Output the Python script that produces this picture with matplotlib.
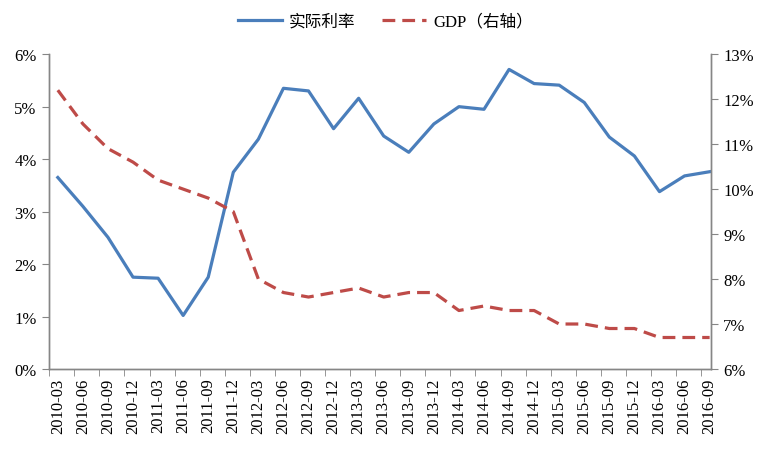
import matplotlib.pyplot as plt
import matplotlib.ticker as mticker
import numpy as np

plt.rcParams['font.family'] = ['Liberation Serif', 'Noto Sans CJK SC']

quarters = ['2010-03', '2010-06', '2010-09', '2010-12', '2011-03', '2011-06', '2011-09', '2011-12',
            '2012-03', '2012-06', '2012-09', '2012-12', '2013-03', '2013-06', '2013-09', '2013-12',
            '2014-03', '2014-06', '2014-09', '2014-12', '2015-03', '2015-06', '2015-09', '2015-12',
            '2016-03', '2016-06', '2016-09']

# 实际利率 (左轴, %)
realRate = [3.65, 3.10, 2.51, 1.75, 1.73, 1.02, 1.75, 3.75,
            4.38, 5.35, 5.30, 4.58, 5.16, 4.44, 4.13, 4.67,
            5.00, 4.95, 5.71, 5.44, 5.41, 5.08, 4.42, 4.06,
            3.38, 3.68, 3.76]

# GDP (右轴, %)
gdp = [12.2, 11.45, 10.9, 10.6, 10.2, 10.0, 9.8, 9.5,
       8.0, 7.7, 7.6, 7.7, 7.8, 7.6, 7.7, 7.7,
       7.3, 7.4, 7.3, 7.3, 7.0, 7.0, 6.9, 6.9,
       6.7, 6.7, 6.7]

blue = '#4A7EBB'
red = '#BE4B48'
grey = '#868686'
fontSize = 12

fig = plt.figure(figsize=(7.71, 4.6), dpi=100)
ax1 = fig.add_axes([0.0636, 0.1957, 0.8584, 0.6843])
ax2 = ax1.twinx()

x = np.arange(len(quarters))
l1, = ax1.plot(x, realRate, color=blue, lw=2.3, label='实际利率')
l2, = ax2.plot(x, gdp, color=red, lw=2.3, dashes=(4, 2.2), label='GDP（右轴）')

ax1.set_ylim(0, 6)
ax2.set_ylim(6, 13)
ax1.set_xlim(-0.35, 26.05)

ax1.yaxis.set_major_locator(mticker.MultipleLocator(1))
ax2.yaxis.set_major_locator(mticker.MultipleLocator(1))
ax1.yaxis.set_major_formatter(mticker.FuncFormatter(lambda v, p: '%d%%' % round(v)))
ax2.yaxis.set_major_formatter(mticker.FuncFormatter(lambda v, p: '%d%%' % round(v)))

# labels at the points, tick marks a bit to the left (excel style)
ax1.set_xticks(x)
ax1.set_xticklabels(quarters, rotation=90, fontsize=fontSize)
ax1.set_xticks(x - 0.34, minor=True)
ax1.tick_params(axis='x', which='major', length=0, pad=6)
ax1.tick_params(axis='x', which='minor', length=5, color=grey, direction='out')

ax1.tick_params(axis='y', labelsize=fontSize, length=5, color=grey, pad=4)
ax2.tick_params(axis='y', labelsize=fontSize, length=5, color=grey, pad=4)

for ax in [ax1, ax2]:
    ax.spines['top'].set_visible(False)
    for s in ['left', 'right', 'bottom']:
        ax.spines[s].set_color(grey)
        ax.spines[s].set_linewidth(1.0)

leg = fig.legend([l1, l2], ['实际利率', 'GDP（右轴）'], loc='center', bbox_to_anchor=(0.5, 0.951),
                 ncol=2, frameon=False, fontsize=fontSize, handlelength=2.6, columnspacing=1.6,
                 handletextpad=0.45)

plt.savefig('out.png', dpi=100)
